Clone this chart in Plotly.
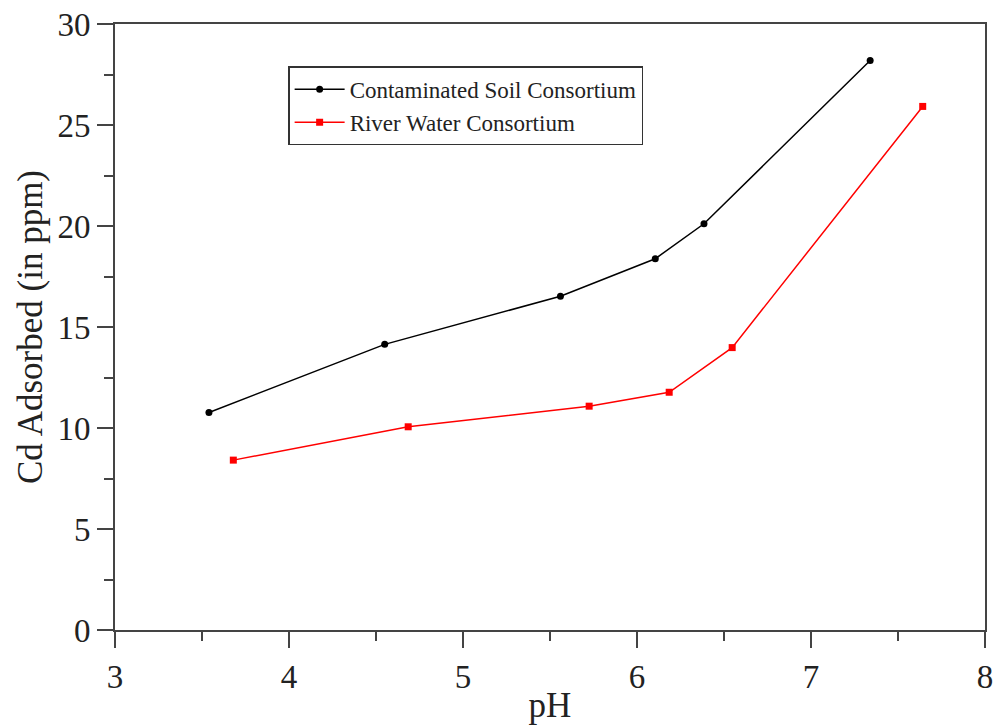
import plotly.graph_objects as go

soil_ph = [3.54, 4.55, 5.56, 6.105, 6.385, 7.34]
soil_cd = [10.77, 14.14, 16.52, 18.38, 20.11, 28.19]
river_ph = [3.68, 4.685, 5.725, 6.185, 6.547, 7.642]
river_cd = [8.41, 10.06, 11.08, 11.77, 13.98, 25.92]

FONT = "Liberation Serif"

fig = go.Figure()
fig.add_trace(go.Scatter(
    x=soil_ph, y=soil_cd, mode="lines+markers",
    name="Contaminated Soil Consortium",
    line=dict(color="black", width=1.5),
    marker=dict(symbol="circle", size=7, color="black"),
))
fig.add_trace(go.Scatter(
    x=river_ph, y=river_cd, mode="lines+markers",
    name="River Water Consortium",
    line=dict(color="#ff0000", width=1.5),
    marker=dict(symbol="square", size=7, color="#ff0000"),
))

axis_common = dict(
    showgrid=False, zeroline=False, showline=True, mirror=True,
    linecolor="#444", linewidth=2, automargin=False,
    ticks="outside", tickcolor="#444", tickwidth=1.5, ticklen=16,
    tickfont=dict(family=FONT, size=33, color="#222"),
)

fig.update_xaxes(
    range=[3, 8], tick0=3, dtick=1,
    minor=dict(ticks="outside", dtick=0.5, ticklen=9, tickcolor="#444", tickwidth=1.5),
    title=dict(text="pH", font=dict(family=FONT, size=35, color="#222"), standoff=2),
    **axis_common,
)
fig.update_yaxes(
    range=[0, 30], tick0=0, dtick=5,
    minor=dict(ticks="outside", dtick=2.5, ticklen=9, tickcolor="#444", tickwidth=1.5),
    title=dict(text="Cd Adsorbed (in ppm)", font=dict(family=FONT, size=35, color="#222"), standoff=4),
    **axis_common,
)

fig.update_layout(
    width=999, height=725,
    margin=dict(l=115, r=14, t=24, b=95),
    plot_bgcolor="white", paper_bgcolor="white",
    font=dict(family=FONT, color="#222"),
    legend=dict(
        x=0.199, y=0.93, xanchor="left", yanchor="top",
        bgcolor="white", bordercolor="#333", borderwidth=1.5,
        font=dict(family=FONT, size=23, color="#222"),
        itemwidth=50, tracegroupgap=0,
    ),
    showlegend=True,
)

fig.write_html("out.html")
